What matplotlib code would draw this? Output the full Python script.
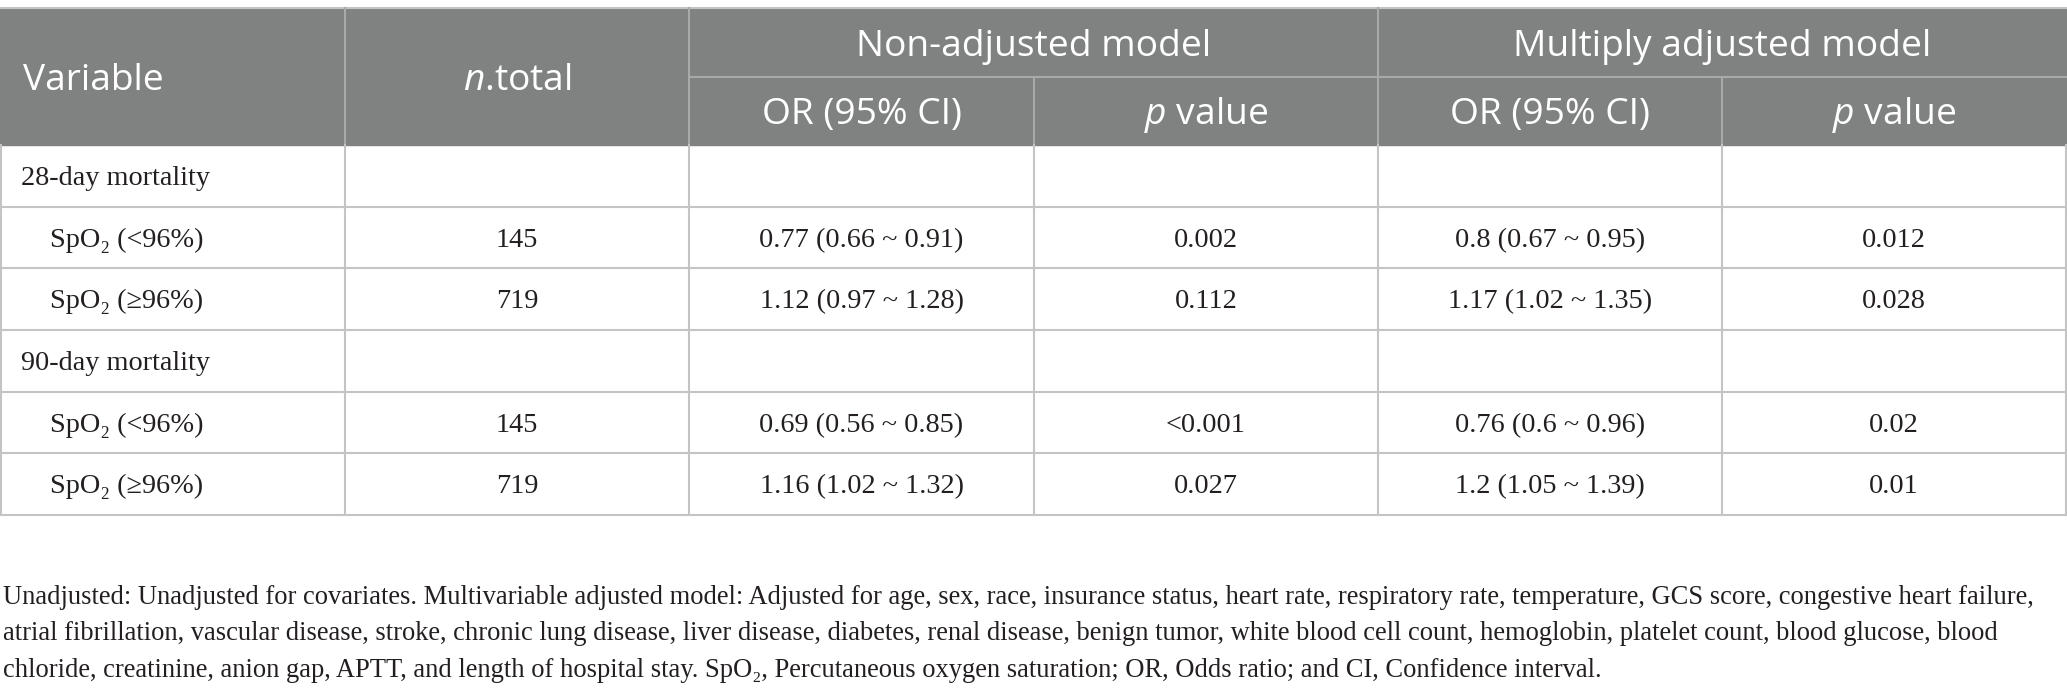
import matplotlib.pyplot as plt
from matplotlib.patches import Rectangle

plt.rcParams["mathtext.fontset"] = "custom"
plt.rcParams["mathtext.rm"] = "Open Sans"
plt.rcParams["mathtext.it"] = "Open Sans:italic"

# table content
variables = ["28-day mortality", "SpO₂ (<96%)", "SpO₂ (≥96%)",
             "90-day mortality", "SpO₂ (<96%)", "SpO₂ (≥96%)"]
indent = [False, True, True, False, True, True]
n_total = ["", "145", "719", "", "145", "719"]
or_unadj = ["", "0.77 (0.66 ~ 0.91)", "1.12 (0.97 ~ 1.28)",
            "", "0.69 (0.56 ~ 0.85)", "1.16 (1.02 ~ 1.32)"]
p_unadj = ["", "0.002", "0.112", "", "<0.001", "0.027"]
or_adj = ["", "0.8 (0.67 ~ 0.95)", "1.17 (1.02 ~ 1.35)",
          "", "0.76 (0.6 ~ 0.96)", "1.2 (1.05 ~ 1.39)"]
p_adj = ["", "0.012", "0.028", "", "0.02", "0.01"]

group_headers = ["Non-adjusted model", "Multiply adjusted model"]
sub_headers = ["OR (95% CI)", r"$\it{p}$ value"]

footnote = [
    "Unadjusted: Unadjusted for covariates. Multivariable adjusted model: Adjusted for age, sex, race, insurance status, heart rate, respiratory rate, temperature, GCS score, congestive heart failure,",
    "atrial fibrillation, vascular disease, stroke, chronic lung disease, liver disease, diabetes, renal disease, benign tumor, white blood cell count, hemoglobin, platelet count, blood glucose, blood",
    "chloride, creatinine, anion gap, APTT, and length of hospital stay. SpO₂, Percutaneous oxygen saturation; OR, Odds ratio; and CI, Confidence interval.",
]

W, H = 2067, 696
fig = plt.figure(figsize=(W / 100, H / 100), dpi=100)
ax = fig.add_axes([0, 0, 1, 1])
ax.set_xlim(0, W)
ax.set_ylim(H, 0)
ax.axis("off")

header_col = "#808181"
head_line = "#a9a9a9"
grid_col = "#c4c4c4"
text_col = "#231f20"
serif = ["Liberation Serif", "DejaVu Serif"]
sans = ["Open Sans", "DejaVu Sans"]

cols = [0, 345, 689, 1034, 1378, 1722, 2066]
top, mid, head_bot = 8, 77, 145
row_h = (515 - head_bot) / len(variables)
lw = 1.5

# header background
ax.add_patch(Rectangle((0, top), W, head_bot - top, color=header_col, zorder=0))
ax.plot([0, W], [top, top], color=grid_col, lw=lw)
for x in [345, 689, 1378]:
    ax.plot([x, x], [top, head_bot], color=head_line, lw=lw)
for x in [1034, 1722]:
    ax.plot([x, x], [mid, head_bot], color=head_line, lw=lw)
ax.plot([689, W], [mid, mid], color=head_line, lw=lw)

hs = 26.7
h_off = 0.357 * hs * 100 / 72   # half cap height in px
ax.text(23, (top + head_bot) / 2 + h_off, "Variable", color="white", fontsize=hs,
        family=sans, va="baseline", ha="left")
ax.text((cols[1] + cols[2]) / 2, (top + head_bot) / 2 + h_off, r"$\it{n}$.total",
        color="white", fontsize=hs, family=sans, va="baseline", ha="center")
for i, g in enumerate(group_headers):
    x0, x1 = cols[2 + 2 * i], cols[4 + 2 * i]
    ax.text((x0 + x1) / 2, (top + mid) / 2 + h_off, g, color="white", fontsize=hs,
            family=sans, va="baseline", ha="center")
    for j, s in enumerate(sub_headers):
        xc = (cols[2 + 2 * i + j] + cols[3 + 2 * i + j]) / 2
        ax.text(xc, (mid + head_bot) / 2 + h_off, s, color="white", fontsize=hs,
                family=sans, va="baseline", ha="center")

# body
bs = 20.3
b_off = 0.33 * bs * 100 / 72
for r in range(len(variables)):
    y0 = head_bot + r * row_h
    yb = y0 + row_h / 2 + b_off
    ax.plot([0, W], [y0 + row_h, y0 + row_h], color=grid_col, lw=lw)
    ax.text(50 if indent[r] else 21, yb, variables[r], fontsize=bs, family=serif,
            color=text_col, va="baseline", ha="left")
    for c, vals in enumerate([n_total, or_unadj, p_unadj, or_adj, p_adj]):
        ax.text((cols[c + 1] + cols[c + 2]) / 2, yb, vals[r], fontsize=bs,
                family=serif, color=text_col, va="baseline", ha="center")
for x in cols:
    x = min(max(x, 1), W - 1)
    ax.plot([x, x], [head_bot, 515], color=grid_col, lw=lw)

# footnote
fs = 19.1
for i, line in enumerate(footnote):
    ax.text(3, 604 + i * 36.5, line, fontsize=fs, family=serif, color=text_col,
            va="baseline", ha="left")

fig.savefig("out.png", dpi=100)
